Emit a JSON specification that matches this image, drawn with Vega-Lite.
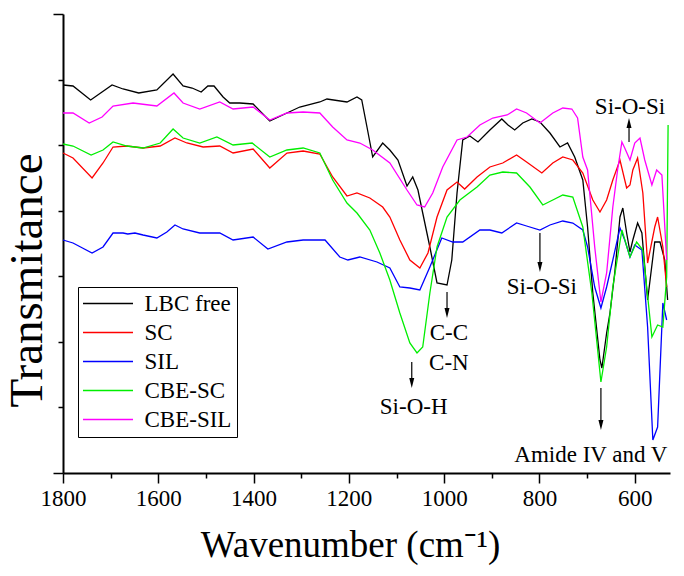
{
"$schema":"https://vega.github.io/schema/vega-lite/v6.json",
"width":607,"height":459,
"autosize":{"type":"none"},
"padding":{"left":63,"top":14,"right":14,"bottom":103},
"background":"white",
"config":{"view":{"stroke":null},"font":"Liberation Serif"},
"datasets":{
"spectra":[
{"s":"LBC free","w":1800,"t":388},{"s":"LBC free","w":1779,"t":387},{"s":"LBC free","w":1742,"t":373},{"s":"LBC free","w":1697,"t":388},{"s":"LBC free","w":1674,"t":384},{"s":"LBC free","w":1641,"t":380},{"s":"LBC free","w":1603,"t":383},{"s":"LBC free","w":1569,"t":399},{"s":"LBC free","w":1548,"t":387},{"s":"LBC free","w":1529,"t":385},{"s":"LBC free","w":1510,"t":381},{"s":"LBC free","w":1496,"t":387},{"s":"LBC free","w":1483,"t":387},{"s":"LBC free","w":1464,"t":376},{"s":"LBC free","w":1450,"t":370},{"s":"LBC free","w":1429,"t":370},{"s":"LBC free","w":1401,"t":369},{"s":"LBC free","w":1366,"t":352},{"s":"LBC free","w":1330,"t":360},{"s":"LBC free","w":1303,"t":366},{"s":"LBC free","w":1261,"t":371},{"s":"LBC free","w":1246,"t":374},{"s":"LBC free","w":1204,"t":371},{"s":"LBC free","w":1183,"t":376},{"s":"LBC free","w":1173,"t":373},{"s":"LBC free","w":1162,"t":346},{"s":"LBC free","w":1150,"t":316},{"s":"LBC free","w":1129,"t":330},{"s":"LBC free","w":1114,"t":323},{"s":"LBC free","w":1097,"t":313},{"s":"LBC free","w":1078,"t":287},{"s":"LBC free","w":1066,"t":296},{"s":"LBC free","w":1055,"t":283},{"s":"LBC free","w":1045,"t":260},{"s":"LBC free","w":1030,"t":226},{"s":"LBC free","w":1015,"t":190},{"s":"LBC free","w":994,"t":188},{"s":"LBC free","w":984,"t":213},{"s":"LBC free","w":973,"t":280},{"s":"LBC free","w":961,"t":333},{"s":"LBC free","w":946,"t":337},{"s":"LBC free","w":929,"t":331},{"s":"LBC free","w":904,"t":343},{"s":"LBC free","w":879,"t":354},{"s":"LBC free","w":866,"t":348},{"s":"LBC free","w":852,"t":343},{"s":"LBC free","w":835,"t":350},{"s":"LBC free","w":816,"t":354},{"s":"LBC free","w":799,"t":351},{"s":"LBC free","w":778,"t":340},{"s":"LBC free","w":757,"t":326},{"s":"LBC free","w":741,"t":330},{"s":"LBC free","w":726,"t":316},{"s":"LBC free","w":709,"t":293},{"s":"LBC free","w":699,"t":246},{"s":"LBC free","w":688,"t":180},{"s":"LBC free","w":673,"t":113},{"s":"LBC free","w":669,"t":105},{"s":"LBC free","w":659,"t":140},{"s":"LBC free","w":652,"t":160},{"s":"LBC free","w":642,"t":200},{"s":"LBC free","w":631,"t":256},{"s":"LBC free","w":625,"t":265},{"s":"LBC free","w":617,"t":240},{"s":"LBC free","w":610,"t":221},{"s":"LBC free","w":604,"t":233},{"s":"LBC free","w":594,"t":250},{"s":"LBC free","w":585,"t":240},{"s":"LBC free","w":573,"t":173},{"s":"LBC free","w":558,"t":231},{"s":"LBC free","w":547,"t":231},{"s":"LBC free","w":537,"t":213},{"s":"LBC free","w":531,"t":173},
{"s":"SC","w":1800,"t":320},{"s":"SC","w":1779,"t":315},{"s":"SC","w":1739,"t":295},{"s":"SC","w":1716,"t":310},{"s":"SC","w":1695,"t":326},{"s":"SC","w":1666,"t":327},{"s":"SC","w":1632,"t":325},{"s":"SC","w":1596,"t":327},{"s":"SC","w":1565,"t":335},{"s":"SC","w":1540,"t":330},{"s":"SC","w":1506,"t":326},{"s":"SC","w":1471,"t":327},{"s":"SC","w":1443,"t":320},{"s":"SC","w":1401,"t":324},{"s":"SC","w":1366,"t":305},{"s":"SC","w":1330,"t":320},{"s":"SC","w":1296,"t":322},{"s":"SC","w":1261,"t":319},{"s":"SC","w":1234,"t":296},{"s":"SC","w":1204,"t":277},{"s":"SC","w":1183,"t":280},{"s":"SC","w":1156,"t":275},{"s":"SC","w":1129,"t":266},{"s":"SC","w":1114,"t":256},{"s":"SC","w":1093,"t":233},{"s":"SC","w":1072,"t":213},{"s":"SC","w":1051,"t":205},{"s":"SC","w":1034,"t":220},{"s":"SC","w":1015,"t":256},{"s":"SC","w":994,"t":283},{"s":"SC","w":973,"t":291},{"s":"SC","w":957,"t":284},{"s":"SC","w":931,"t":296},{"s":"SC","w":904,"t":306},{"s":"SC","w":877,"t":310},{"s":"SC","w":848,"t":318},{"s":"SC","w":827,"t":311},{"s":"SC","w":795,"t":300},{"s":"SC","w":772,"t":310},{"s":"SC","w":751,"t":316},{"s":"SC","w":730,"t":313},{"s":"SC","w":709,"t":300},{"s":"SC","w":688,"t":273},{"s":"SC","w":673,"t":261},{"s":"SC","w":659,"t":273},{"s":"SC","w":646,"t":293},{"s":"SC","w":631,"t":313},{"s":"SC","w":617,"t":285},{"s":"SC","w":610,"t":288},{"s":"SC","w":604,"t":303},{"s":"SC","w":594,"t":315},{"s":"SC","w":583,"t":280},{"s":"SC","w":573,"t":210},{"s":"SC","w":558,"t":246},{"s":"SC","w":552,"t":256},{"s":"SC","w":541,"t":226},{"s":"SC","w":533,"t":186},
{"s":"SIL","w":1800,"t":233},{"s":"SIL","w":1779,"t":230},{"s":"SIL","w":1739,"t":220},{"s":"SIL","w":1716,"t":226},{"s":"SIL","w":1695,"t":240},{"s":"SIL","w":1674,"t":240},{"s":"SIL","w":1664,"t":239},{"s":"SIL","w":1649,"t":240},{"s":"SIL","w":1632,"t":238},{"s":"SIL","w":1603,"t":235},{"s":"SIL","w":1582,"t":241},{"s":"SIL","w":1565,"t":248},{"s":"SIL","w":1548,"t":244},{"s":"SIL","w":1513,"t":240},{"s":"SIL","w":1471,"t":240},{"s":"SIL","w":1443,"t":233},{"s":"SIL","w":1401,"t":236},{"s":"SIL","w":1370,"t":224},{"s":"SIL","w":1330,"t":231},{"s":"SIL","w":1296,"t":233},{"s":"SIL","w":1250,"t":233},{"s":"SIL","w":1219,"t":216},{"s":"SIL","w":1202,"t":213},{"s":"SIL","w":1177,"t":216},{"s":"SIL","w":1141,"t":211},{"s":"SIL","w":1114,"t":205},{"s":"SIL","w":1093,"t":186},{"s":"SIL","w":1072,"t":185},{"s":"SIL","w":1051,"t":183},{"s":"SIL","w":1030,"t":206},{"s":"SIL","w":1005,"t":235},{"s":"SIL","w":982,"t":231},{"s":"SIL","w":961,"t":231},{"s":"SIL","w":925,"t":243},{"s":"SIL","w":904,"t":243},{"s":"SIL","w":879,"t":240},{"s":"SIL","w":848,"t":250},{"s":"SIL","w":827,"t":247},{"s":"SIL","w":799,"t":243},{"s":"SIL","w":778,"t":248},{"s":"SIL","w":751,"t":252},{"s":"SIL","w":730,"t":250},{"s":"SIL","w":709,"t":243},{"s":"SIL","w":699,"t":226},{"s":"SIL","w":684,"t":186},{"s":"SIL","w":671,"t":165},{"s":"SIL","w":659,"t":186},{"s":"SIL","w":646,"t":213},{"s":"SIL","w":631,"t":245},{"s":"SIL","w":621,"t":233},{"s":"SIL","w":610,"t":216},{"s":"SIL","w":600,"t":228},{"s":"SIL","w":585,"t":223},{"s":"SIL","w":573,"t":146},{"s":"SIL","w":562,"t":33},{"s":"SIL","w":552,"t":46},{"s":"SIL","w":541,"t":170},{"s":"SIL","w":533,"t":153},
{"s":"CBE-SC","w":1800,"t":329},{"s":"CBE-SC","w":1779,"t":327},{"s":"CBE-SC","w":1741,"t":318},{"s":"CBE-SC","w":1716,"t":323},{"s":"CBE-SC","w":1695,"t":331},{"s":"CBE-SC","w":1666,"t":327},{"s":"CBE-SC","w":1632,"t":325},{"s":"CBE-SC","w":1596,"t":330},{"s":"CBE-SC","w":1569,"t":344},{"s":"CBE-SC","w":1548,"t":335},{"s":"CBE-SC","w":1513,"t":330},{"s":"CBE-SC","w":1477,"t":336},{"s":"CBE-SC","w":1443,"t":328},{"s":"CBE-SC","w":1403,"t":330},{"s":"CBE-SC","w":1366,"t":316},{"s":"CBE-SC","w":1330,"t":323},{"s":"CBE-SC","w":1296,"t":325},{"s":"CBE-SC","w":1261,"t":320},{"s":"CBE-SC","w":1234,"t":293},{"s":"CBE-SC","w":1204,"t":270},{"s":"CBE-SC","w":1183,"t":260},{"s":"CBE-SC","w":1156,"t":243},{"s":"CBE-SC","w":1135,"t":220},{"s":"CBE-SC","w":1114,"t":193},{"s":"CBE-SC","w":1093,"t":160},{"s":"CBE-SC","w":1072,"t":130},{"s":"CBE-SC","w":1057,"t":120},{"s":"CBE-SC","w":1045,"t":126},{"s":"CBE-SC","w":1030,"t":180},{"s":"CBE-SC","w":1015,"t":226},{"s":"CBE-SC","w":994,"t":256},{"s":"CBE-SC","w":967,"t":273},{"s":"CBE-SC","w":931,"t":286},{"s":"CBE-SC","w":904,"t":298},{"s":"CBE-SC","w":877,"t":301},{"s":"CBE-SC","w":848,"t":300},{"s":"CBE-SC","w":820,"t":286},{"s":"CBE-SC","w":793,"t":268},{"s":"CBE-SC","w":772,"t":273},{"s":"CBE-SC","w":751,"t":278},{"s":"CBE-SC","w":730,"t":276},{"s":"CBE-SC","w":709,"t":246},{"s":"CBE-SC","w":690,"t":180},{"s":"CBE-SC","w":671,"t":91},{"s":"CBE-SC","w":659,"t":126},{"s":"CBE-SC","w":646,"t":186},{"s":"CBE-SC","w":627,"t":243},{"s":"CBE-SC","w":610,"t":216},{"s":"CBE-SC","w":596,"t":231},{"s":"CBE-SC","w":583,"t":223},{"s":"CBE-SC","w":564,"t":136},{"s":"CBE-SC","w":552,"t":148},{"s":"CBE-SC","w":541,"t":146},{"s":"CBE-SC","w":533,"t":196},{"s":"CBE-SC","w":530,"t":348},
{"s":"CBE-SIL","w":1800,"t":360},{"s":"CBE-SIL","w":1779,"t":360},{"s":"CBE-SIL","w":1745,"t":350},{"s":"CBE-SIL","w":1718,"t":356},{"s":"CBE-SIL","w":1695,"t":367},{"s":"CBE-SIL","w":1653,"t":370},{"s":"CBE-SIL","w":1603,"t":367},{"s":"CBE-SIL","w":1567,"t":380},{"s":"CBE-SIL","w":1548,"t":370},{"s":"CBE-SIL","w":1513,"t":364},{"s":"CBE-SIL","w":1471,"t":371},{"s":"CBE-SIL","w":1443,"t":364},{"s":"CBE-SIL","w":1401,"t":366},{"s":"CBE-SIL","w":1366,"t":353},{"s":"CBE-SIL","w":1330,"t":360},{"s":"CBE-SIL","w":1296,"t":361},{"s":"CBE-SIL","w":1261,"t":360},{"s":"CBE-SIL","w":1234,"t":346},{"s":"CBE-SIL","w":1204,"t":333},{"s":"CBE-SIL","w":1177,"t":330},{"s":"CBE-SIL","w":1150,"t":323},{"s":"CBE-SIL","w":1114,"t":310},{"s":"CBE-SIL","w":1078,"t":283},{"s":"CBE-SIL","w":1057,"t":268},{"s":"CBE-SIL","w":1041,"t":266},{"s":"CBE-SIL","w":1024,"t":280},{"s":"CBE-SIL","w":1003,"t":306},{"s":"CBE-SIL","w":973,"t":333},{"s":"CBE-SIL","w":952,"t":336},{"s":"CBE-SIL","w":925,"t":348},{"s":"CBE-SIL","w":898,"t":355},{"s":"CBE-SIL","w":868,"t":358},{"s":"CBE-SIL","w":848,"t":364},{"s":"CBE-SIL","w":827,"t":360},{"s":"CBE-SIL","w":799,"t":350},{"s":"CBE-SIL","w":772,"t":360},{"s":"CBE-SIL","w":751,"t":365},{"s":"CBE-SIL","w":732,"t":364},{"s":"CBE-SIL","w":720,"t":355},{"s":"CBE-SIL","w":709,"t":316},{"s":"CBE-SIL","w":699,"t":303},{"s":"CBE-SIL","w":684,"t":226},{"s":"CBE-SIL","w":671,"t":171},{"s":"CBE-SIL","w":659,"t":200},{"s":"CBE-SIL","w":646,"t":266},{"s":"CBE-SIL","w":636,"t":303},{"s":"CBE-SIL","w":627,"t":331},{"s":"CBE-SIL","w":621,"t":325},{"s":"CBE-SIL","w":610,"t":313},{"s":"CBE-SIL","w":600,"t":330},{"s":"CBE-SIL","w":589,"t":335},{"s":"CBE-SIL","w":579,"t":313},{"s":"CBE-SIL","w":564,"t":288},{"s":"CBE-SIL","w":554,"t":303},{"s":"CBE-SIL","w":543,"t":298},{"s":"CBE-SIL","w":533,"t":213}
],
"ann":[
{"label":"Si-O-Si","w":610,"t":366},
{"label":"Si-O-Si","w":795,"t":186},
{"label":"C-C","w":990,"t":140},
{"label":"C-N","w":990,"t":110},
{"label":"Si-O-H","w":1064,"t":66},
{"label":"Amide IV and V","w":692,"t":18}
],
"arrows":[
{"w":612,"t1":331,"t2":350,"d":"up"},
{"w":799,"t1":240,"t2":206,"d":"down"},
{"w":994,"t1":181,"t2":160,"d":"down"},
{"w":1068,"t1":111,"t2":90,"d":"down"},
{"w":671,"t1":85,"t2":48,"d":"down"}
]
},
"layer":[
{"data":{"name":"spectra"},
 "mark":{"type":"line","strokeWidth":1.3,"interpolate":"linear"},
 "encoding":{
  "x":{"field":"w","type":"quantitative","title":"Wavenumber (cm⁻¹)",
   "scale":{"domain":[1800,526],"nice":false,"zero":false},
   "axis":{"values":[1800,1700,1600,1500,1400,1300,1200,1100,1000,900,800,700,600],"format":"d",
    "labelExpr":"datum.value % 200 == 0 ? datum.label : ''",
    "domainColor":"black","domainWidth":2,"tickColor":"black","tickWidth":1.5,
    "tickSize":{"condition":{"test":"datum.value % 200 == 0","value":10},"value":5},
    "labelFont":"Liberation Serif","labelFontSize":23,"labelColor":"black","labelPadding":4,
    "labelFlush":false,"labelOverlap":false,"grid":false,
    "titleFont":"Liberation Serif","titleFontSize":37,"titleFontWeight":"normal","titleColor":"black",
    "titleX":287,"titleY":83,"titleBaseline":"alphabetic","titleAlign":"center"}},
  "y":{"field":"t","type":"quantitative","title":"Transmitance",
   "scale":{"domain":[0,459],"nice":false,"zero":false},
   "axis":{"values":[0,32.786,65.571,98.357,131.143,163.929,196.714,229.5,262.286,295.071,327.857,360.643,393.429,426.214,459],
    "labels":false,"domainColor":"black","domainWidth":2,"tickColor":"black","tickWidth":1.5,
    "tickSize":{"condition":{"test":"datum.value < 1 || datum.value > 458","value":10},"value":5},
    "grid":false,
    "titleFont":"Liberation Serif","titleFontSize":47,"titleFontWeight":"normal","titleColor":"black",
    "titleX":-36,"titleY":266,"titleAlign":"center","titleBaseline":"middle","titleAngle":270}},
  "color":{"field":"s","type":"nominal","sort":null,
   "scale":{"domain":["LBC free","SC","SIL","CBE-SC","CBE-SIL"],"range":["#000000","#ff0000","#0000ff","#00ee00","#ff00ff"]},
   "legend":{"orient":"none","legendX":15,"legendY":273,"title":null,"symbolType":"M-5,0H5","symbolSize":100,
    "symbolOffset":13.5,"symbolStrokeWidth":1.3,"labelFont":"Liberation Serif","labelFontSize":23,"labelColor":"black","labelOffset":25,
    "rowPadding":5,"padding":5,"strokeColor":"black","fillColor":"white","labelLimit":300}}
 }},
{"data":{"name":"arrows"},
 "mark":{"type":"rule","strokeWidth":1.2,"color":"black"},
 "encoding":{"x":{"field":"w","type":"quantitative","title":"Wavenumber (cm⁻¹)"},"y":{"field":"t1","type":"quantitative","title":"Transmitance"},"y2":{"field":"t2"}}},
{"data":{"name":"arrows"},
 "mark":{"type":"point","filled":true,"color":"black","size":100,"opacity":1,"strokeWidth":0},
 "encoding":{"x":{"field":"w","type":"quantitative","title":"Wavenumber (cm⁻¹)"},"y":{"field":"t2","type":"quantitative","title":"Transmitance"},
  "shape":{"field":"d","type":"nominal","scale":{"domain":["up","down"],"range":["M-0.5,1L0.5,1L0,-1Z","M-0.5,-1L0.5,-1L0,1Z"]},"legend":null}}},
{"data":{"name":"ann"},
 "mark":{"type":"text","font":"Liberation Serif","fontSize":23,"color":"black","align":"center","baseline":"middle"},
 "encoding":{"x":{"field":"w","type":"quantitative","title":"Wavenumber (cm⁻¹)"},"y":{"field":"t","type":"quantitative","title":"Transmitance"},"text":{"field":"label"}}}
]
}
